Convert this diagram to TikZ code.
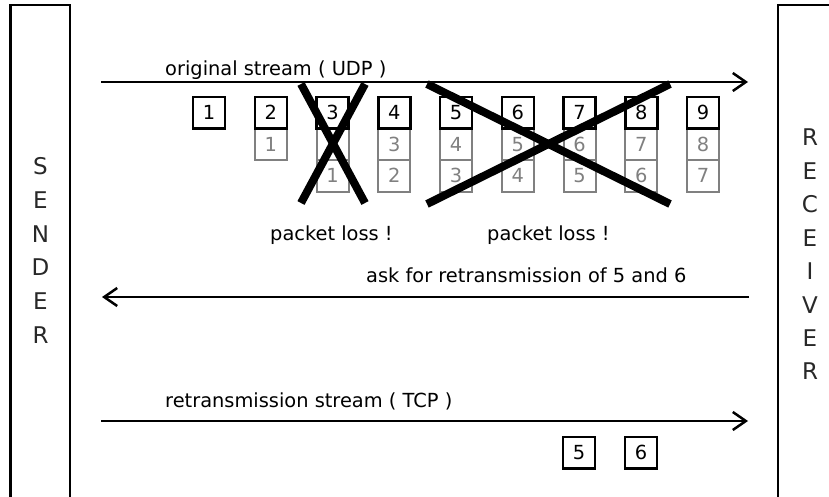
\documentclass[tikz,border=0pt]{standalone}
\usepackage{fontspec}
\setmainfont{DejaVu Sans}
\usetikzlibrary{arrows.meta}
\definecolor{cellgray}{RGB}{128,128,128}
\definecolor{sidetext}{RGB}{40,40,40}
\begin{document}
\begin{tikzpicture}[x=1pt,y=-1pt,
  txt/.style={font=\fontsize{19.4}{23}\selectfont, inner sep=0pt},
  lbl/.style={txt, anchor=base west},
  letter/.style={font=\fontsize{23}{28}\selectfont, inner sep=0pt, anchor=base, text=sidetext},
  side/.style={draw=black, line width=2.5pt},
  pkt/.style={txt, draw=black, line width=2.5pt, minimum width=32pt, minimum height=31.5pt, text=black},
  old/.style={txt, draw=cellgray, line width=2pt, minimum width=32pt, minimum height=31.5pt, text=cellgray},
  flow/.style={line width=2.5pt, -{Straight Barb[length=13pt,width=18pt,line width=2.5pt]}},
  cross/.style={line width=8pt, line cap=butt}
]
\useasboundingbox (0,0) rectangle (829,497);

% sender and receiver
\draw[side] (10.5,5) rectangle (70,497.8);
\draw[side] (778,5) rectangle (860,497.8);
\foreach \l [count=\i from 0] in {S,E,N,D,E,R}
  \node[letter] (snd\i) at (40.5,175+33.6*\i) {\l};
\foreach \l [count=\i from 0] in {R,E,C,E,I,V,E,R}
  \node[letter] (rcv\i) at (810,146+33.4*\i) {\l};

% stream coordinates
\coordinate (s1) at (101,82);
\coordinate (r1) at (748,82);
\coordinate (r2) at (749,297);
\coordinate (s2) at (102,297);
\coordinate (s3) at (101,421);
\coordinate (r3) at (748,421);

\draw[flow] (s1) -- (r1);
\draw[flow] (r2) -- (s2);
\draw[flow] (s3) -- (r3);

\node[lbl] (udp) at (165,76) {original stream ( UDP )};
\node[lbl] (ask) at (366,282) {ask for retransmission of 5 and 6};
\node[lbl] (tcp) at (165,407) {retransmission stream ( TCP )};
\node[lbl] (loss1) at (270,240) {packet loss !};
\node[lbl] (loss2) at (487,240) {packet loss !};

% packets: gray (older copies) first
\node[old] (c2b) at (270.75,144.25) {1};
\node[old] (c3b) at (332.5,144.25) {};
\node[old] (c3c) at (332.5,175.75) {1};
\node[old] (c4b) at (394.25,144.25) {3};
\node[old] (c4c) at (394.25,175.75) {2};
\node[old] (c5b) at (456,144.25) {4};
\node[old] (c5c) at (456,175.75) {3};
\node[old] (c6b) at (517.75,144.25) {5};
\node[old] (c6c) at (517.75,175.75) {4};
\node[old] (c7b) at (579.5,144.25) {6};
\node[old] (c7c) at (579.5,175.75) {5};
\node[old] (c8b) at (641.25,144.25) {7};
\node[old] (c8c) at (641.25,175.75) {6};
\node[old] (c9b) at (703,144.25) {8};
\node[old] (c9c) at (703,175.75) {7};

\foreach \n [count=\i from 0] in {1,...,9}
  \node[pkt] (p\n) at (209+61.75*\i,112.75) {\n};

% retransmitted packets
\node[pkt] (t5) at (579,452.5) {5};
\node[pkt] (t6) at (641,452.5) {6};

% losses
\draw[cross] (301,84) -- (365,203);
\draw[cross] (365,84) -- (301,203);
\draw[cross] (427,84) -- (670,204);
\draw[cross] (670,84) -- (427,204);
\end{tikzpicture}
\end{document}
